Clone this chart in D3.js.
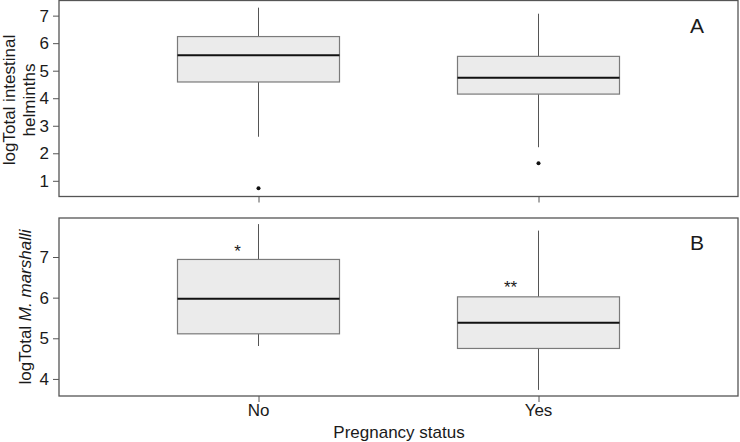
<!DOCTYPE html>
<html>
<head>
<meta charset="utf-8">
<script src="https://cdn.jsdelivr.net/npm/d3@7"></script>
<style>
  body { margin: 0; background: #fff; }
  text { font-family: "Liberation Sans", Arial, sans-serif; fill: #1a1a1a; }
</style>
</head>
<body>
<div id="chart"></div>
<script>
let width = 740;
let height = 442;

const groups = ["No", "Yes"];

// panel A: logTotal intestinal helminths
const statsA = [
  { group: "No", lo: 2.6, q1: 4.59, med: 5.56, q3: 6.24, hi: 7.29 },
  { group: "Yes", lo: 2.22, q1: 4.15, med: 4.74, q3: 5.52, hi: 7.07 },
];
const outliersA = [
  { group: "No", value: 0.73 },
  { group: "Yes", value: 1.64 },
];
const ticksA = [1, 2, 3, 4, 5, 6, 7];

// panel B: logTotal M. marshalli
const statsB = [
  { group: "No", lo: 4.81, q1: 5.11, med: 5.97, q3: 6.94, hi: 7.81 },
  { group: "Yes", lo: 3.73, q1: 4.75, med: 5.38, q3: 6.02, hi: 7.65 },
];
const marksB = [
  { group: "No", value: 7.3, label: "*" },
  { group: "Yes", value: 6.4, label: "**" },
];
const ticksB = [4, 5, 6, 7];

const left = 59, right = 738;

const svg = d3
  .select("#chart")
  .append("svg")
  .attr("width", width)
  .attr("height", height);

const xScale = d3
  .scalePoint()
  .domain(groups)
  .range([left, right])
  .padding(0.7125);

const boxWidth = 162;

function drawPanel(stats, ticks, domain, top, bottom, letter) {
  const yScale = d3.scaleLinear().domain(domain).range([bottom, top]);

  const g = svg.append("g");

  g.append("rect")
    .attr("x", left)
    .attr("y", top)
    .attr("width", right - left)
    .attr("height", bottom - top)
    .attr("fill", "none")
    .attr("stroke", "#555")
    .attr("stroke-width", 1.3);

  const yAxis = d3.axisLeft(yScale)
    .tickValues(ticks)
    .tickFormat(d3.format("d"))
    .tickSize(6)
    .tickPadding(4);
  const ya = g.append("g")
    .attr("transform", `translate(${left},0)`)
    .call(yAxis);
  ya.select(".domain").remove();
  ya.selectAll(".tick line").attr("stroke", "#555");
  ya.selectAll(".tick text")
    .style("font-size", "17px")
    .style("font-family", '"Liberation Sans", Arial, sans-serif')
    .attr("fill", "#1a1a1a");

  const xa = g.append("g")
    .attr("transform", `translate(0,${bottom})`)
    .call(d3.axisBottom(xScale).tickSize(6).tickFormat(""));
  xa.select(".domain").remove();
  xa.selectAll(".tick line").attr("stroke", "#555");

  const box = g.selectAll(".box")
    .data(stats)
    .enter()
    .append("g")
    .attr("class", "box");

  box.append("line")
    .attr("x1", (d) => xScale(d.group))
    .attr("x2", (d) => xScale(d.group))
    .attr("y1", (d) => yScale(d.hi))
    .attr("y2", (d) => yScale(d.q3))
    .attr("stroke", "#555")
    .attr("stroke-width", 1);

  box.append("line")
    .attr("x1", (d) => xScale(d.group))
    .attr("x2", (d) => xScale(d.group))
    .attr("y1", (d) => yScale(d.q1))
    .attr("y2", (d) => yScale(d.lo))
    .attr("stroke", "#555")
    .attr("stroke-width", 1);

  box.append("rect")
    .attr("x", (d) => xScale(d.group) - boxWidth / 2)
    .attr("width", boxWidth)
    .attr("y", (d) => yScale(d.q3))
    .attr("height", (d) => yScale(d.q1) - yScale(d.q3))
    .attr("fill", "#ebebeb")
    .attr("stroke", "#7a7a7a")
    .attr("stroke-width", 1.2);

  box.append("line")
    .attr("x1", (d) => xScale(d.group) - boxWidth / 2)
    .attr("x2", (d) => xScale(d.group) + boxWidth / 2)
    .attr("y1", (d) => yScale(d.med))
    .attr("y2", (d) => yScale(d.med))
    .attr("stroke", "#111")
    .attr("stroke-width", 2);

  g.append("text")
    .attr("x", 697)
    .attr("y", top + 25)
    .attr("dy", "0.35em")
    .attr("text-anchor", "middle")
    .style("font-size", "21px")
    .text(letter);

  return { g, yScale };
}

const pA = drawPanel(statsA, ticksA, [0.43, 7.55], 0.5, 196.5, "A");
const pB = drawPanel(statsB, ticksB, [3.58, 7.96], 218, 396, "B");

pA.g.selectAll(".outlier")
  .data(outliersA)
  .enter()
  .append("circle")
  .attr("cx", (d) => xScale(d.group))
  .attr("cy", (d) => pA.yScale(d.value))
  .attr("r", 2)
  .attr("fill", "#111");

pB.g.selectAll(".sig")
  .data(marksB)
  .enter()
  .append("text")
  .attr("x", (d) => xScale(d.group) - 21 - (d.label.length - 1) * 7)
  .attr("y", (d) => pB.yScale(d.value))
  .attr("text-anchor", "middle")
  .attr("dy", "0.7em")
  .style("font-size", "17px")
  .text((d) => d.label);

// x tick labels
svg.selectAll(".xlab")
  .data(groups)
  .enter()
  .append("text")
  .attr("x", (d) => xScale(d))
  .attr("y", 410)
  .attr("dy", "0.35em")
  .attr("text-anchor", "middle")
  .style("font-size", "17px")
  .text((d) => d);

svg.append("text")
  .attr("x", 399)
  .attr("y", 432)
  .attr("dy", "0.35em")
  .attr("text-anchor", "middle")
  .style("font-size", "17px")
  .text("Pregnancy status");

// y titles
const titleA = svg.append("text")
  .attr("transform", "translate(9,100) rotate(-90)")
  .attr("text-anchor", "middle")
  .style("font-size", "17px");
titleA.append("tspan").attr("x", 0).attr("y", 0).attr("dy", "0.35em").text("logTotal intestinal");
titleA.append("tspan").attr("x", 0).attr("y", 0).attr("dy", "1.5em").text("helminths");

svg.append("text")
  .attr("transform", "translate(25,307) rotate(-90)")
  .attr("text-anchor", "middle")
  .attr("dy", "0.35em")
  .style("font-size", "17px")
  .call((t) => {
    t.append("tspan").text("logTotal ");
    t.append("tspan").style("font-style", "italic").text("M. marshalli");
  });
</script>
</body>
</html>
